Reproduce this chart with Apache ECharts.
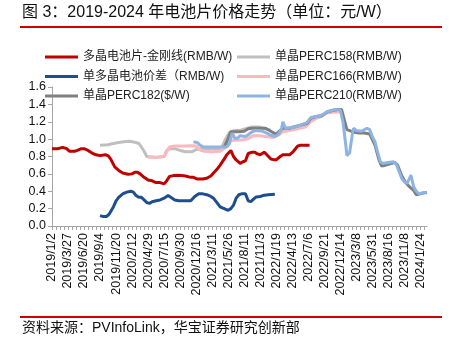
<!DOCTYPE html>
<html>
<head>
<meta charset="utf-8">
<script src="https://cdn.jsdelivr.net/npm/echarts@6/dist/echarts.min.js"></script>
<style>
  html, body { margin: 0; padding: 0; background: #fff; }
  #chart { width: 451px; height: 343px; }
</style>
</head>
<body>
<div id="chart"></div>
<script>
// Labelled weeks on the category axis (one every 12 weekly points)
const labelDates = [
  '2019/1/2', '2019/3/27', '2019/6/20', '2019/9/4', '2019/11/20', '2020/2/12',
  '2020/4/29', '2020/7/15', '2020/9/30', '2020/12/16', '2021/3/11', '2021/5/26',
  '2021/8/11', '2021/11/3', '2022/1/19', '2022/4/13', '2022/7/6', '2022/9/21',
  '2022/12/14', '2023/3/8', '2023/5/31', '2023/8/16', '2023/11/8', '2024/1/24'
];
const weeksPerLabel = 12;
const trailingWeeks = 5;

// Series: [week index, price]
const polyDiamondWire = [
  [0,0.89],[4,0.89],[8,0.905],[11,0.89],[13,0.86],[17,0.86],[19,0.87],[22,0.89],[24,0.89],
  [27,0.87],[30,0.84],[33,0.82],[36,0.81],[40,0.82],[42,0.81],[44,0.77],[47,0.68],[50,0.64],
  [53,0.61],[57,0.595],[60,0.60],[62,0.62],[64,0.62],[66,0.60],[69,0.56],[72,0.53],[75,0.52],
  [78,0.50],[81,0.50],[84,0.485],[86,0.52],[88,0.57],[91,0.58],[94,0.585],[97,0.58],[100,0.575],
  [104,0.56],[106,0.56],[109,0.54],[113,0.54],[116,0.55],[119,0.575],[121,0.61],[124,0.66],
  [126,0.70],[129,0.77],[131,0.82],[134,0.87],[136,0.80],[138,0.76],[141,0.72],[143,0.74],
  [145,0.75],[147,0.835],[150,0.85],[152,0.85],[154,0.83],[156,0.82],[159,0.85],[161,0.82],
  [164,0.77],[168,0.76],[171,0.80],[173,0.82],[178,0.82],[181,0.86],[184,0.92],[186,0.93],[193,0.93]
];
const monoPerc158 = [
  [36,0.93],[42,0.935],[46,0.95],[50,0.96],[54,0.97],[58,0.975],[62,0.965],[65,0.95],[67,0.91],
  [69,0.86],[71,0.80],[72,0.785],[78,0.79],[84,0.80],[86,0.87],[88,0.89],[92,0.89],[96,0.87],
  [100,0.855],[105,0.855],[108,0.88],[112,0.89],[118,0.89],[126,0.89],[128,0.93],[130,1.0],
  [133,1.08],[137,1.10],[141,1.10],[145,1.12],[150,1.14],[155,1.14],[160,1.12],[164,1.10]
];
const monoPolySpread = [
  [36,0.12],[38,0.11],[41,0.11],[43,0.14],[46,0.22],[48,0.29],[50,0.33],[53,0.37],[56,0.39],
  [59,0.40],[61,0.39],[63,0.35],[65,0.33],[67,0.33],[69,0.30],[71,0.27],[73,0.26],[75,0.28],
  [78,0.29],[81,0.30],[84,0.32],[87,0.35],[89,0.33],[92,0.30],[95,0.29],[99,0.29],[104,0.29],
  [107,0.34],[110,0.37],[113,0.37],[116,0.36],[119,0.34],[121,0.32],[123,0.28],[126,0.22],
  [129,0.20],[132,0.18],[134,0.20],[136,0.24],[138,0.32],[140,0.36],[142,0.37],[145,0.37],
  [147,0.29],[149,0.28],[151,0.31],[153,0.335],[156,0.34],[158,0.35],[162,0.36],[167,0.365]
];
const monoPerc166 = [
  [72,0.79],[78,0.79],[84,0.80],[86,0.86],[88,0.91],[92,0.92],[100,0.92],[105,0.925],[108,0.92],
  [111,0.875],[114,0.86],[120,0.855],[126,0.86],[128,0.88],[131,0.92],[134,0.98],[138,0.99],
  [142,0.99],[146,1.00],[151,1.04],[156,1.04],[160,1.03],[166,1.02],[170,1.05],[173,1.085],
  [178,1.10],[184,1.12],[190,1.14],[194,1.20],[198,1.24],[202,1.26],[206,1.30],[210,1.31],[216,1.315]
];
const monoPerc182 = [
  [129,0.91],[131,0.97],[133,1.05],[134,1.085],[140,1.085],[144,1.09],[147,1.12],[150,1.125],
  [160,1.125],[164,1.09],[168,1.055],[171,1.10],[173,1.125],[178,1.125],[181,1.14],[186,1.16],
  [191,1.18],[194,1.24],[198,1.26],[202,1.27],[206,1.31],[210,1.33],[214,1.34],[217,1.34],
  [221,1.11],[226,1.08],[230,1.07],[234,1.07],[238,1.06],[242,0.93],[245,0.76],[247,0.69],
  [250,0.70],[254,0.72],[257,0.73],[259,0.70],[262,0.58],[265,0.50],[268,0.45],[271,0.41],
  [273,0.36],[276,0.37],[278,0.38],[281,0.385]
];
const monoPerc210 = [
  [106,0.97],[109,0.96],[111,0.93],[113,0.913],[120,0.91],[126,0.91],[131,0.91],[133,0.95],
  [135,1.07],[137,1.01],[139,1.01],[141,1.04],[145,1.03],[147,1.05],[150,1.085],[153,1.10],
  [158,1.09],[161,1.07],[163,1.05],[167,1.03],[170,1.06],[172,1.12],[173,1.20],[175,1.125],
  [178,1.13],[182,1.14],[186,1.16],[191,1.19],[194,1.25],[198,1.26],[201,1.27],[204,1.29],
  [206,1.315],[209,1.33],[213,1.34],[216,1.335],[218,1.20],[220,0.95],[221,0.81],[223,0.84],
  [225,1.05],[226,1.125],[228,1.10],[232,1.09],[236,1.125],[238,1.11],[240,1.03],[242,0.97],
  [244,0.85],[246,0.74],[248,0.72],[252,0.73],[256,0.74],[258,0.71],[260,0.63],[262,0.55],
  [264,0.51],[266,0.49],[268,0.55],[269,0.587],[271,0.45],[273,0.40],[275,0.37],[277,0.38],[281,0.39]
];

const seriesNames = [
  '多晶电池片-金刚线(RMB/W)', '单晶PERC158(RMB/W)', '单多晶电池价差（RMB/W)',
  '单晶PERC166(RMB/W)', '单晶PERC182($/W)', '单晶PERC210(RMB/W)'
];
const seriesColors = ['#C00000', '#BFBFBF', '#1F4E8C', '#F9B9BF', '#7F7F7F', '#8DB4E2'];
const seriesData = [polyDiamondWire, monoPerc158, monoPolySpread, monoPerc166, monoPerc182, monoPerc210];

// Weekly categories: each labelled week followed by the next 11 weeks
function fmt(d) {
  return d.getFullYear() + '/' + (d.getMonth() + 1) + '/' + d.getDate();
}
const categories = [];
labelDates.forEach((s, i) => {
  const [y, m, d] = s.split('/').map(Number);
  const n = i === labelDates.length - 1 ? trailingWeeks + 1 : weeksPerLabel;
  for (let k = 0; k < n; k++) {
    categories.push(k === 0 ? s : fmt(new Date(y, m - 1, d + 7 * k)));
  }
});

const FONT = '"Liberation Sans", Arial, "Noto Sans CJK SC", sans-serif';
const chart = echarts.init(document.getElementById('chart'), null, { renderer: 'canvas' });

const legendBase = {
  orient: 'vertical',
  itemWidth: 33,
  itemHeight: 3,
  itemGap: 7.5,
  icon: 'rect',
  padding: 0,
  textStyle: { fontFamily: FONT, fontSize: 12, color: '#222' }
};

chart.setOption({
  animation: false,
  backgroundColor: '#fff',
  title: {
    text: '图 3：2019-2024 年电池片价格走势（单位：元/W）',
    left: 22, top: 5, padding: 0,
    textStyle: { fontFamily: FONT, fontSize: 16, fontWeight: 'normal', color: '#111' }
  },
  legend: [
    Object.assign({}, legendBase, { left: 45, top: 51, data: [seriesNames[0], seriesNames[2], seriesNames[4]] }),
    Object.assign({}, legendBase, { left: 237, top: 51, data: [seriesNames[1], seriesNames[3], seriesNames[5]] })
  ],
  grid: { left: 52, right: 24, top: 87, bottom: 117, containLabel: false },
  xAxis: {
    type: 'category',
    data: categories,
    boundaryGap: false,
    axisLine: { lineStyle: { color: '#A6A6A6', width: 1 } },
    axisTick: { show: true, interval: 2, length: 4, lineStyle: { color: '#A6A6A6' } },
    axisLabel: {
      interval: weeksPerLabel - 1,
      rotate: 90,
      margin: 7,
      fontFamily: FONT,
      fontSize: 12.5,
      color: '#111'
    },
    splitLine: { show: false }
  },
  yAxis: {
    type: 'value',
    min: 0, max: 1.6, interval: 0.2,
    axisLine: { show: true, lineStyle: { color: '#A6A6A6', width: 1 } },
    axisTick: { show: true, length: 4, lineStyle: { color: '#A6A6A6' } },
    axisLabel: {
      formatter: v => v.toFixed(1),
      margin: 6,
      fontFamily: FONT,
      fontSize: 12.5,
      color: '#111'
    },
    splitLine: { show: false }
  },
  series: seriesNames.map((name, i) => ({
    name,
    type: 'line',
    data: seriesData[i],
    symbol: 'none',
    smooth: false,
    lineStyle: { color: seriesColors[i], width: 3 },
    itemStyle: { color: seriesColors[i] },
    z: 2 + i
  })),
  graphic: [
    { type: 'line', shape: { x1: 20, y1: 27, x2: 442, y2: 27 }, style: { stroke: '#D00000', lineWidth: 2 } },
    { type: 'line', shape: { x1: 20, y1: 317, x2: 442, y2: 317 }, style: { stroke: '#D00000', lineWidth: 2 } },
    {
      type: 'text', left: 22, top: 321,
      style: { text: '资料来源：PVInfoLink，华宝证券研究创新部', font: '14px ' + FONT, fill: '#111' }
    }
  ]
});
</script>
</body>
</html>
